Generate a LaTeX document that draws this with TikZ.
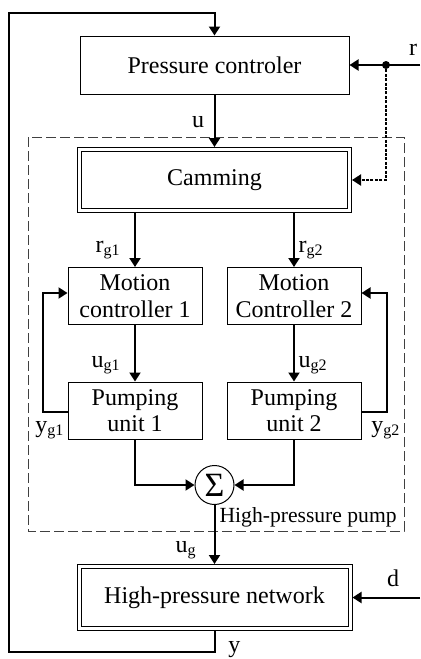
\documentclass[tikz,border=0pt]{standalone}
\usepackage{fontspec}
\setmainfont{Liberation Serif}
\usetikzlibrary{arrows.meta,calc}
\begin{document}
\begin{tikzpicture}[x=0.5pt,y=-0.5pt,
  font=\fontsize{12}{13.3}\selectfont,
  box/.style={draw,line width=0.5pt,minimum width=67pt,minimum height=28.5pt,align=center,inner sep=0pt},
  dbox/.style={draw,line width=0.5pt,double,double distance=1.5pt,outer sep=1.25pt,minimum width=135pt,minimum height=30.5pt,inner sep=0pt},
  tip/.style={-{Triangle[length=4.5pt,width=5.5pt]}},
  conn/.style={line width=1pt,tip},
  dotconn/.style={line width=1pt,dash pattern=on 1.5pt off 0.7pt,tip},
  pumpbox/.style={line width=0.5pt,dash pattern=on 5pt off 2pt,black!75},
  lbl/.style={inner sep=0pt}]
\useasboundingbox (0,0) rectangle (420,659);

% dashed high-pressure pump boundary
\coordinate (hpA) at (28,137);
\coordinate (hpB) at (404,531);
\draw[pumpbox] (hpA) rectangle (hpB);

% blocks
\node[box,minimum width=134.5pt,minimum height=29pt] (pc) at (214.5,65) {Pressure controler};
\node[dbox] (cam) at (214.5,180) {Camming};
\node[box] (mc1) at (135,296) {Motion\\controller 1};
\node[box] (mc2) at (294,296) {Motion\\Controller 2};
\node[box] (pu1) at (135,410.5) {Pumping\\unit 1};
\node[box] (pu2) at (294,410.5) {Pumping\\unit 2};
\node[draw,circle,line width=0.5pt,minimum size=19.5pt,inner sep=0pt] (sum) at (214.5,485) {\fontsize{17}{17}\selectfont Σ};
\node[dbox,minimum width=135.5pt,minimum height=31pt] (hpn) at (214.5,597.5) {High-pressure network};

% free ends
\coordinate (rin) at (420,65);
\coordinate (rdot) at (386,65);
\coordinate (rturn) at (386,180);
\coordinate (din) at (420,597.5);
\coordinate (fbA) at (214.5,652);
\coordinate (fbB) at (9,652);
\coordinate (fbC) at (9,13);
\coordinate (fbD) at (214.5,13);

% connectors
\draw[conn] (rin) -- (pc.east);
\fill (rdot) circle (2pt);
\draw[dotconn] (rdot) -- (rturn) -- (cam.east);
\draw[conn] (pc.south) -- (cam.north);
\draw[conn] (cam.south -| mc1.north) -- (mc1.north);
\draw[conn] (cam.south -| mc2.north) -- (mc2.north);
\draw[conn] (mc1.south) -- (pu1.north);
\draw[conn] (mc2.south) -- (pu2.north);
\draw[conn] ([yshift=-0.75pt]pu1.west) -- ++(-25,0) |- ([yshift=1.5pt]mc1.west);
\draw[conn] ([yshift=-0.75pt]pu2.east) -- ++(25,0) |- ([yshift=1.5pt]mc2.east);
\draw[conn] (pu1.south) |- (sum.west);
\draw[conn] (pu2.south) |- (sum.east);
\draw[conn] (sum.south) -- (hpn.north);
\draw[conn] (din) -- (hpn.east);
\draw[conn] (hpn.south) -- (fbA) -- (fbB) -- (fbC) -- (fbD) -- (pc.north);

% labels
\node[lbl,anchor=base] at (413,55) {r};
\node[lbl,anchor=base] at (198,127) {u};
\node[lbl,anchor=base east] at (121,252) {r\textsubscript{g1}};
\node[lbl,anchor=base east] at (324,252) {r\textsubscript{g2}};
\node[lbl,anchor=base east] at (121,367) {u\textsubscript{g1}};
\node[lbl,anchor=base east] at (328,367) {u\textsubscript{g2}};
\node[lbl,anchor=base west] at (35,432) {y\textsubscript{g1}};
\node[lbl,anchor=base west] at (371,432) {y\textsubscript{g2}};
\node[lbl,anchor=base east,font=\fontsize{10.8}{12}\selectfont] at (397,522) {High-pressure pump};
\node[lbl,anchor=base east] at (197,552) {u\textsubscript{g}};
\node[lbl,anchor=base] at (393,586) {d};
\node[lbl,anchor=base west] at (228,652) {y};
\end{tikzpicture}
\end{document}
